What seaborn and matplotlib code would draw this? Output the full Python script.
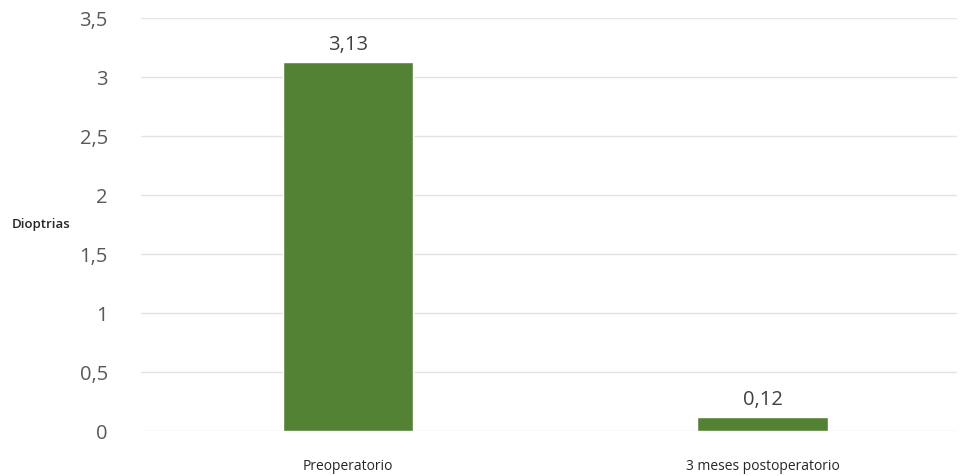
import matplotlib
matplotlib.use("Agg")
import matplotlib.pyplot as plt
import seaborn as sns
import pandas as pd

categories = ["Preoperatorio", "3 meses postoperatorio"]
values = [3.13, 0.12]
labels = ["3,13", "0,12"]
yticks = [0, 0.5, 1, 1.5, 2, 2.5, 3, 3.5]
ytick_labels = ["0", "0,5", "1", "1,5", "2", "2,5", "3", "3,5"]

sns.set_style("white")
plt.rcParams["font.family"] = ["Open Sans", "DejaVu Sans"]

df = pd.DataFrame({"cat": categories, "val": values})
fig = plt.figure(figsize=(9.6, 4.76), dpi=100)
ax = fig.add_axes([0.147, 0.0945, 0.85, 0.8675])
sns.barplot(data=df, x="cat", y="val", color="#548235", saturation=1, width=0.315, ax=ax)

ax.set_ylim(0, 3.5)
ax.set_xlim(-0.5, 1.47)
ax.set_yticks(yticks)
ax.set_yticklabels(ytick_labels, fontsize=14.5, color="#595959")
ax.yaxis.grid(True, color="#e3e3e3", linewidth=1)
ax.set_axisbelow(True)
for s in ax.spines.values():
    s.set_visible(False)
ax.tick_params(axis="y", length=0, pad=24)
ax.tick_params(axis="x", length=0, pad=20, labelsize=10, labelcolor="#262626")
ax.set_xlabel("")
ax.set_ylabel("")
fig.text(0.012, 0.528, "Dioptrias", fontsize=9.5, color="#262626", fontweight="semibold", va="center")

for i, (v, t) in enumerate(zip(values, labels)):
    ax.annotate(t, (i, v), xytext=(0, 5), textcoords="offset points",
                ha="center", va="bottom", fontsize=14.5, color="#404040")

fig.savefig("out.png", dpi=100)
